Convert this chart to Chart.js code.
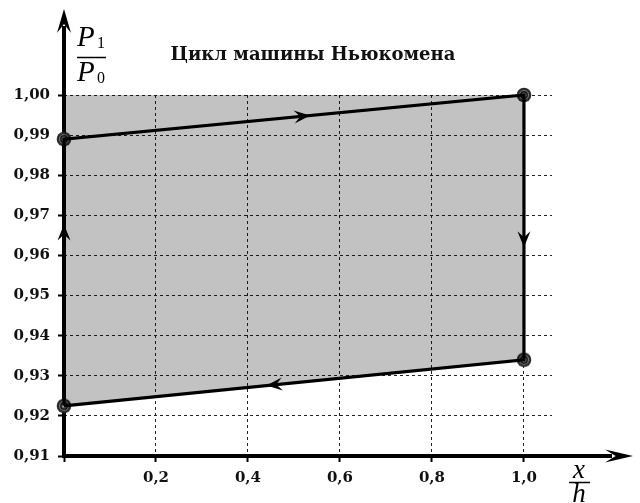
<!DOCTYPE html>
<html>
<head>
<meta charset="utf-8">
<script src="https://cdn.jsdelivr.net/npm/chart.js@4.4.1/dist/chart.umd.min.js"></script>
<style>
  html, body { margin: 0; padding: 0; background: #fff; }
  #wrap { width: 640px; height: 503px; }
</style>
</head>
<body>
<div id="wrap"><canvas id="cycle"></canvas></div>
<script>
// ---- data ----
const titleText = 'Цикл машины Ньюкомена';
const xTicks = [0, 0.2, 0.4, 0.6, 0.8, 1.0];
const yTicks = [0.91, 0.92, 0.93, 0.94, 0.95, 0.96, 0.97, 0.98, 0.99, 1.00];

// cycle corners (closed loop), x = x/h, y = P1/P0
const cycleX = [0, 0, 1.0, 1.0, 0];
const cycleY = [0.9225, 0.989, 1.000, 0.934, 0.9225];

// shaded area: from the lower stroke up to the 1,00 level (top of the axis)
const shadeX = [0, 1.0];
const shadeBottom = [0.9225, 0.934];

// direction arrows: segment of the loop and position of the tip along it
const arrowSeg = [0, 1, 2, 3];
const arrowPos = [0.68, 0.535, 0.575, 0.56];

const pts = (xs, ys) => xs.map((x, i) => ({ x, y: ys[i] }));
const fmt = (v, d) => v.toFixed(d).replace('.', ',');

// marker: dark ring with inner circles
function makeMarker() {
  const c = document.createElement('canvas');
  c.width = 16; c.height = 16;
  const g = c.getContext('2d');
  g.fillStyle = '#2b2b2b';
  g.beginPath(); g.arc(8, 8, 7.3, 0, Math.PI * 2); g.fill();
  g.fillStyle = '#7a7a7a';
  g.beginPath(); g.arc(8, 8, 5, 0, Math.PI * 2); g.fill();
  g.strokeStyle = '#111'; g.lineWidth = 1.4;
  g.beginPath(); g.arc(8, 8, 3.2, 0, Math.PI * 2); g.stroke();
  g.fillStyle = '#d0d0d0';
  g.beginPath(); g.arc(8, 8, 1.1, 0, Math.PI * 2); g.fill();
  return c;
}

function arrowHead(ctx, tx, ty, ang, len, half) {
  const dx = Math.cos(ang), dy = Math.sin(ang);
  const px = -dy, py = dx;
  ctx.beginPath();
  ctx.moveTo(tx, ty);
  ctx.lineTo(tx - len * dx + half * px, ty - len * dy + half * py);
  ctx.lineTo(tx - len * 0.62 * dx, ty - len * 0.62 * dy);
  ctx.lineTo(tx - len * dx - half * px, ty - len * dy - half * py);
  ctx.closePath();
  ctx.fill();
}

// axes with arrows, loop arrows, title and axis captions
const decor = {
  id: 'decor',
  beforeDatasetsDraw(chart) {
    const { ctx, chartArea: a } = chart;
    ctx.save();
    ctx.strokeStyle = '#000';
    ctx.lineWidth = 4;
    ctx.beginPath();
    ctx.moveTo(a.left, a.bottom + 2);
    ctx.lineTo(a.left, 26);
    ctx.moveTo(a.left - 2, a.bottom);
    ctx.lineTo(612, a.bottom);
    ctx.stroke();
    ctx.fillStyle = '#000';
    arrowHead(ctx, a.left, 9, -Math.PI / 2, 24, 7);
    arrowHead(ctx, 633, a.bottom, 0, 28, 6.5);
    ctx.restore();
  },
  afterDatasetsDraw(chart) {
    const { ctx, scales: { x, y } } = chart;
    ctx.save();
    ctx.fillStyle = '#000';
    ctx.strokeStyle = '#000';

    // loop direction arrows
    arrowSeg.forEach((s, i) => {
      const x0 = x.getPixelForValue(cycleX[s]), y0 = y.getPixelForValue(cycleY[s]);
      const x1 = x.getPixelForValue(cycleX[s + 1]), y1 = y.getPixelForValue(cycleY[s + 1]);
      const t = arrowPos[i];
      arrowHead(ctx, x0 + (x1 - x0) * t, y0 + (y1 - y0) * t, Math.atan2(y1 - y0, x1 - x0), 16, 6.5);
    });

    // title
    ctx.font = 'bold 18px "DejaVu Serif"';
    ctx.textAlign = 'center';
    ctx.textBaseline = 'alphabetic';
    ctx.fillStyle = '#111';
    ctx.fillText(titleText, 313, 60);

    // P1 / P0
    ctx.fillStyle = '#000';
    ctx.textAlign = 'left';
    ctx.font = 'italic 29px "Liberation Serif"';
    ctx.fillText('P', 77, 46);
    ctx.fillText('P', 77, 81);
    ctx.font = '16px "Liberation Serif"';
    ctx.fillText('1', 97, 48);
    ctx.fillText('0', 97, 83);
    ctx.lineWidth = 1.5;
    ctx.beginPath();
    ctx.moveTo(77, 57.5); ctx.lineTo(106, 57.5);
    ctx.stroke();

    // x / h
    ctx.textAlign = 'center';
    ctx.font = 'italic 27px "Liberation Serif"';
    ctx.fillText('x', 579, 478);
    ctx.fillText('h', 579, 502);
    ctx.beginPath();
    ctx.moveTo(569, 482.5); ctx.lineTo(590, 482.5);
    ctx.stroke();
    ctx.restore();
  }
};

const tickFont = { family: 'DejaVu Serif', size: 15, weight: 'bold' };

new Chart(document.getElementById('cycle'), {
  type: 'line',
  data: {
    datasets: [
      {
        // translucent so the dashed grid stays black underneath
        data: pts(shadeX, shadeBottom),
        borderWidth: 0,
        borderColor: 'rgba(0,0,0,0)',
        pointRadius: 0,
        backgroundColor: 'rgba(0,0,0,0.24)',
        fill: 'end',
      },
      {
        data: pts(cycleX, cycleY),
        borderColor: '#000',
        backgroundColor: 'rgba(0,0,0,0)',
        borderWidth: 3.2,
        pointRadius: 0,
        fill: false,
        clip: 6,
      },
      {
        data: pts(cycleX.slice(0, 4), cycleY.slice(0, 4)),
        showLine: false,
        fill: false,
        borderColor: 'rgba(0,0,0,0)',
        backgroundColor: 'rgba(0,0,0,0)',
        pointStyle: makeMarker(),
        pointRadius: 8,
        clip: false,
      },
    ],
  },
  options: {
    responsive: true,
    maintainAspectRatio: false,
    animation: false,
    events: [],
    layout: { padding: { top: 95, right: 88, bottom: 0, left: 0 } },
    plugins: {
      legend: { display: false },
      tooltip: { enabled: false },
    },
    scales: {
      x: {
        type: 'linear',
        min: 0,
        max: 1.061,
        afterBuildTicks: s => { s.ticks = xTicks.map(v => ({ value: v })); },
        afterFit: s => { s.height = 47; },
        grid: { color: '#222', lineWidth: 1, tickLength: 6, tickColor: '#000', tickWidth: 2 },
        border: { display: false, dash: [3, 3] },
        ticks: {
          color: '#111',
          font: tickFont,
          padding: 7,
          maxRotation: 0,
          callback: v => (v === 0 ? '' : fmt(v, 1)),
        },
      },
      y: {
        type: 'linear',
        min: 0.91,
        max: 1.0,
        afterBuildTicks: s => { s.ticks = yTicks.map(v => ({ value: v })); },
        afterFit: s => { s.width = 64; },
        grid: { color: '#222', lineWidth: 1, tickLength: 6, tickColor: '#000', tickWidth: 2 },
        border: { display: false, dash: [3, 3] },
        ticks: {
          color: '#111',
          font: tickFont,
          padding: 8,
          callback: v => fmt(v, 2),
        },
      },
    },
  },
  plugins: [decor],
});
</script>
</body>
</html>
